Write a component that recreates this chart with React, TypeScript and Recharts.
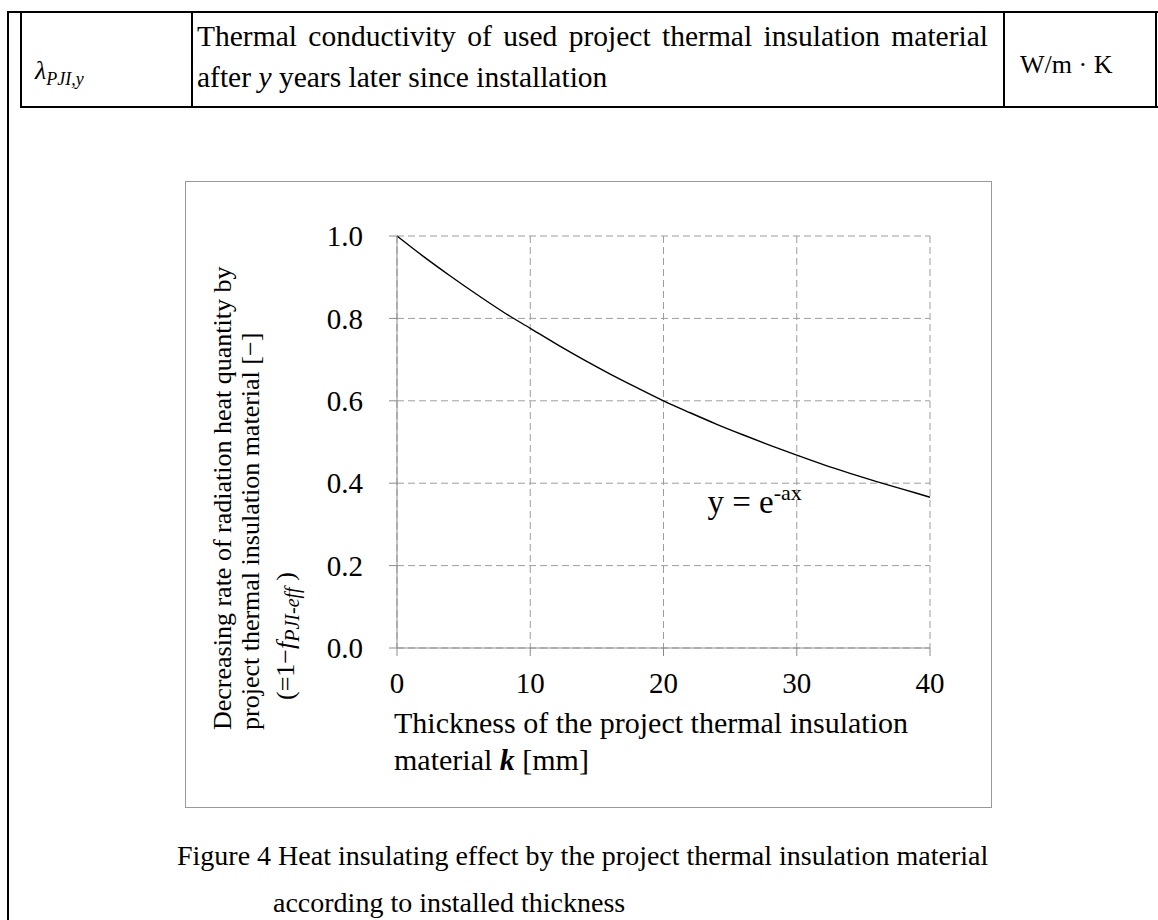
import React from "react";
import {
  CartesianGrid,
  Line,
  LineChart,
  ReferenceDot,
  XAxis,
  YAxis,
} from "recharts";

// thickness k [mm] and decreasing rate
const thickness = [0, 2, 4, 6, 8, 10, 12, 14, 16, 18, 20, 22, 24, 26, 28, 30, 32, 34, 36, 38, 40];
const rate = [1.0, 0.95, 0.903, 0.858, 0.815, 0.776, 0.737, 0.7, 0.665, 0.632, 0.6, 0.571, 0.543, 0.517, 0.492, 0.468, 0.445, 0.424, 0.404, 0.385, 0.366];

const xTicks = [0, 10, 20, 30, 40];
const yTicks = [0, 0.2, 0.4, 0.6, 0.8, 1.0];

const yTitleLines = [
  "Decreasing rate of radiation heat quantity  by",
  "project thermal insulation material [\u2212]",
];
const xTitleLines = ["Thickness of the project thermal insulation", "material"];
const captionLines = [
  "Figure 4 Heat insulating effect by the project thermal insulation material",
  "according to installed thickness",
];

// where the formula label sits, in data units
const formulaAt = { k: 23.3, rate: 0.328 };

const data = thickness.map((k, i) => ({ k, rate: rate[i] }));

const serif = '"Liberation Serif", "Times New Roman", serif';
const axisGray = "#8c8c8c";

const YTitle = (props: any) => {
  const vb = props.viewBox || {};
  const bottom = vb.y + vb.height;
  const x0 = vb.x;
  return (
    <g fontFamily={serif} fontSize={26} fill="#000">
      <text x={0} y={0} transform={`translate(${x0 - 66},${bottom + 82}) rotate(-90)`}>
        {yTitleLines[0]}
      </text>
      <text x={0} y={0} transform={`translate(${x0 - 38},${bottom + 82}) rotate(-90)`}>
        {yTitleLines[1]}
      </text>
      <text x={0} y={0} transform={`translate(${x0 - 3},${bottom + 52}) rotate(-90)`}>
        (=1{"\u2212"}
        <tspan fontStyle="italic">f</tspan>
        <tspan fontStyle="italic" fontSize={20} dy={5}>PJI-eff</tspan>
        <tspan dy={-5}>{"  )"}</tspan>
      </text>
    </g>
  );
};

const XTitle = (props: any) => {
  const vb = props.viewBox || {};
  return (
    <g fontFamily={serif} fontSize={30} fill="#000">
      <text x={vb.x - 3} y={vb.y + 85}>{xTitleLines[0]}</text>
      <text x={vb.x - 3} y={vb.y + 122}>
        {xTitleLines[1]}
        <tspan fontWeight="bold" fontStyle="italic">{"  k"}</tspan>
        <tspan> [mm]</tspan>
      </text>
    </g>
  );
};

const Formula = (props: any) => (
  <text x={props.cx} y={props.cy} fontFamily={serif} fontSize={33} fill="#000">
    y = e
    <tspan fontSize={22} dy={-13}>-ax</tspan>
  </text>
);

const line = "2px solid #000";

export default function App() {
  return (
    <div
      style={{
        position: "absolute",
        left: 0,
        top: 0,
        width: 1158,
        height: 920,
        background: "#fff",
        fontFamily: serif,
        color: "#000",
        overflow: "hidden",
      }}
    >
      {/* table row above the figure */}
      <div style={{ position: "absolute", left: 7, top: 11, width: 1151, height: 0, borderTop: line }} />
      <div style={{ position: "absolute", left: 20, top: 106, width: 1138, height: 0, borderTop: line }} />
      <div style={{ position: "absolute", left: 7, top: 11, width: 0, height: 909, borderLeft: line }} />
      <div style={{ position: "absolute", left: 20, top: 11, width: 0, height: 97, borderLeft: line }} />
      <div style={{ position: "absolute", left: 191, top: 11, width: 0, height: 97, borderLeft: line }} />
      <div style={{ position: "absolute", left: 1003, top: 11, width: 0, height: 97, borderLeft: line }} />
      <div style={{ position: "absolute", left: 1155, top: 11, width: 0, height: 97, borderLeft: line }} />
      <div style={{ position: "absolute", left: 35, top: 58, fontSize: 26, lineHeight: "26px", fontStyle: "italic", whiteSpace: "nowrap" }}>
        {"\u03bb"}
        <span style={{ fontSize: 18, position: "relative", top: 6 }}>PJI,y</span>
      </div>
      <div style={{ position: "absolute", left: 197, top: 16, width: 791, fontSize: 29.5, lineHeight: "41px" }}>
        <div style={{ textAlign: "justify", textAlignLast: "justify", whiteSpace: "nowrap" }}>
          Thermal conductivity of used project thermal insulation material
        </div>
        <div style={{ whiteSpace: "nowrap" }}>
          after <i>y</i> years later since installation
        </div>
      </div>
      <div style={{ position: "absolute", left: 1020, top: 50, fontSize: 26, lineHeight: "30px", whiteSpace: "pre" }}>
        {"W/m \u00b7 K"}
      </div>

      {/* figure frame */}
      <div
        style={{
          position: "absolute",
          left: 185,
          top: 181,
          width: 807,
          height: 627,
          border: "1px solid #999",
          boxSizing: "border-box",
        }}
      >
        <LineChart
          width={805}
          height={625}
          data={data}
          margin={{ top: 54, right: 61, left: 111, bottom: 99 }}
        >
          <CartesianGrid stroke="#9d9d9d" strokeDasharray="7 4" />
          <XAxis
            type="number"
            dataKey="k"
            domain={[0, 40]}
            ticks={xTicks}
            interval={0}
            height={60}
            stroke={axisGray}
            tickSize={8}
            tickMargin={16}
            tick={{ fill: "#000", fontSize: 29, fontFamily: serif }}
            label={<XTitle />}
          />
          <YAxis
            type="number"
            domain={[0, 1]}
            ticks={yTicks}
            interval={0}
            width={100}
            stroke={axisGray}
            tickSize={8}
            tickMargin={26}
            tickFormatter={(v: number) => v.toFixed(1)}
            tick={{ fill: "#000", fontSize: 29, fontFamily: serif }}
            label={<YTitle />}
          />
          <Line
            type="monotone"
            dataKey="rate"
            stroke="#000"
            strokeWidth={1.4}
            dot={false}
            isAnimationActive={false}
          />
          <ReferenceDot x={formulaAt.k} y={formulaAt.rate} r={0} shape={<Formula />} />
        </LineChart>
      </div>

      {/* caption */}
      <div style={{ position: "absolute", left: 177, top: 832, fontSize: 28, lineHeight: "47px", whiteSpace: "nowrap" }}>
        <div>{captionLines[0]}</div>
        <div style={{ paddingLeft: 96 }}>{captionLines[1]}</div>
      </div>
    </div>
  );
}
